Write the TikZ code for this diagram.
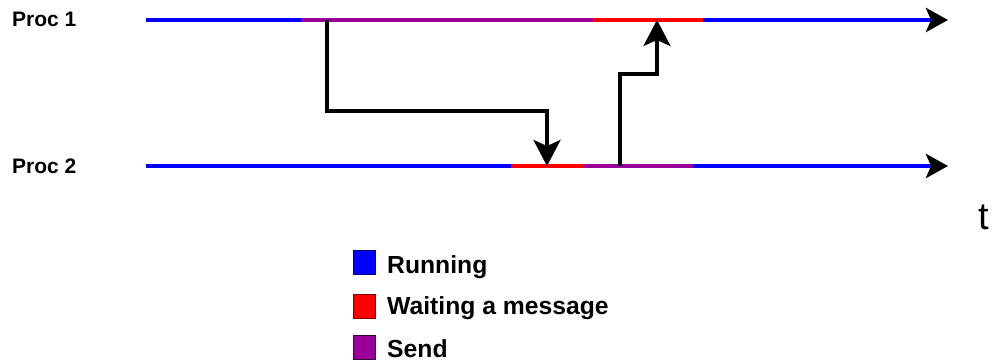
\documentclass[tikz,border=0pt]{standalone}
\usepackage{fontspec}
\setmainfont{Liberation Sans}
\usetikzlibrary{arrows.meta}
\definecolor{runc}{RGB}{0,0,255}
\definecolor{waitc}{RGB}{255,0,0}
\definecolor{sendc}{RGB}{153,0,153}
\tikzset{
  seg/.style={line width=4.5pt},
  proclabel/.style={anchor=base west, inner sep=0pt, font=\fontsize{21}{25}\selectfont\bfseries},
  legtext/.style={anchor=base west, inner sep=0pt, font=\fontsize{24.7}{29}\selectfont\bfseries},
  legbox/.style={minimum width=22pt, minimum height=24pt, inner sep=0pt, line width=1.5pt},
  timearrow/.style={seg, -{Stealth[length=22pt,width=24pt,inset=5pt,color=black]}},
  msg/.style={line width=3.5pt, black, -{Stealth[length=26pt,width=27pt,inset=6pt]}}
}
\begin{document}
\begin{tikzpicture}[x=1pt,y=-1pt]
\useasboundingbox (0,0) rectangle (995,363);
% labels
\node[proclabel] (p1) at (12,27) {Proc 1};
\node[proclabel] (p2) at (12,174) {Proc 2};
\node[anchor=base west, inner sep=0pt, font=\fontsize{38}{44}\selectfont] (t) at (978,230) {t};
% proc 1 timeline
\coordinate (a0) at (146,20);
\coordinate (a1) at (301,20);
\coordinate (a2) at (593,20);
\coordinate (a3) at (703,20);
\coordinate (a4) at (948,20);
\coordinate (s1) at (327,20);
\coordinate (r1) at (657,20);
% proc 2 timeline
\coordinate (b0) at (146,166);
\coordinate (b1) at (511,166);
\coordinate (b2) at (584,166);
\coordinate (b3) at (693,166);
\coordinate (b4) at (948,166);
\coordinate (r2) at (547,166);
\coordinate (s2) at (620,166);
\draw[seg, runc] (a0) -- (a1);
\draw[seg, sendc] (a1) -- (a2);
\draw[seg, waitc] (a2) -- (a3);
\draw[timearrow, runc] (a3) -- (a4);
\draw[seg, runc] (b0) -- (b1);
\draw[seg, waitc] (b1) -- (b2);
\draw[seg, sendc] (b2) -- (b3);
\draw[timearrow, runc] (b3) -- (b4);
% messages
\draw[msg] (s1) -- (327,111) -- (547,111) -- (r2);
\draw[msg] (s2) -- (620,74) -- (657,74) -- (r1);
% legend
\node[legbox, fill=runc, draw=runc!55!black] (l1) at (364.5,262.5) {};
\node[legbox, fill=waitc, draw=waitc!50!black] (l2) at (364.5,306.5) {};
\node[legbox, fill=sendc, draw=sendc!40!black] (l3) at (364.5,347.5) {};
\node[legtext] (t1) at (387,273) {Running};
\node[legtext] (t2) at (387,314) {Waiting a message};
\node[legtext] (t3) at (387,357) {Send};
\end{tikzpicture}
\end{document}
